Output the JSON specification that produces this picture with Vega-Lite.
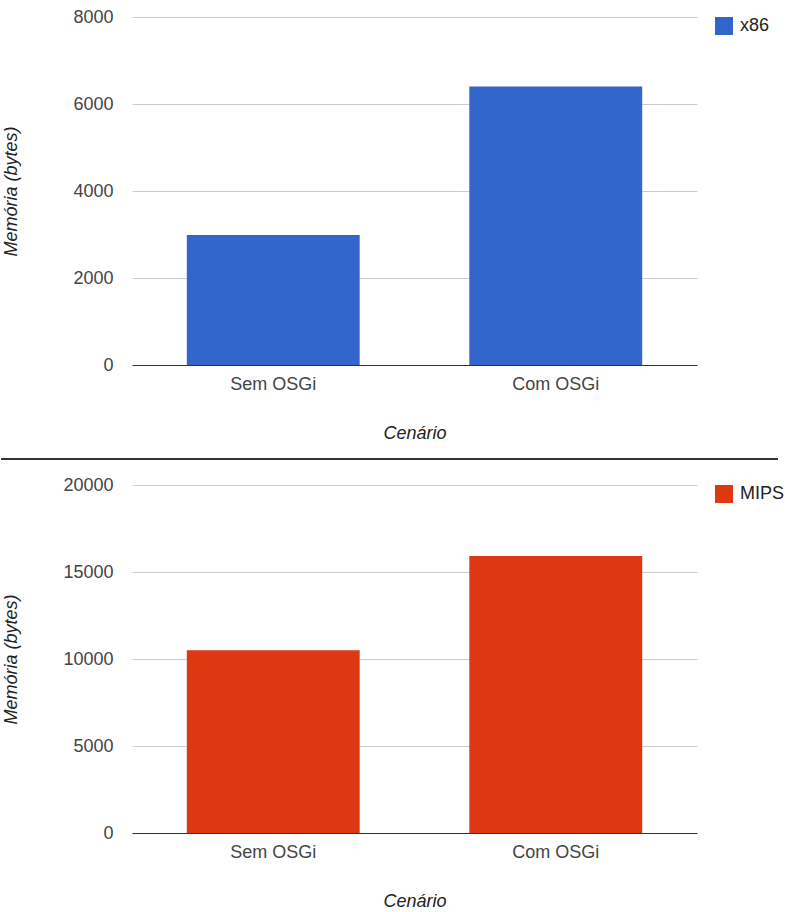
{
  "$schema": "https://vega.github.io/schema/vega-lite/v6.json",
  "background": "white",
  "padding": {"left": 0, "top": 8, "right": 0, "bottom": 3},
  "datasets": {
    "x86": [
      {"cenario": "Sem OSGi", "memoria": 2990, "arquitetura": "x86"},
      {"cenario": "Com OSGi", "memoria": 6400, "arquitetura": "x86"}
    ],
    "mips": [
      {"cenario": "Sem OSGi", "memoria": 10500, "arquitetura": "MIPS"},
      {"cenario": "Com OSGi", "memoria": 15920, "arquitetura": "MIPS"}
    ],
    "separador": [
      {"linha": 0}
    ],
    "vazio": []
  },
  "spacing": 16,
  "vconcat": [
    {
      "spacing": 0,
      "resolve": {
        "scale": {"color": "independent"},
        "legend": {"color": "independent"}
      },
      "hconcat": [
        {
          "width": 1,
          "height": 1,
          "data": {"name": "vazio"},
          "mark": {"type": "point", "opacity": 0}
        },
        {
          "width": 565,
          "height": 348,
          "data": {"name": "x86"},
          "mark": {"type": "bar"},
          "encoding": {
            "x": {
              "field": "cenario",
              "type": "nominal",
              "sort": ["Sem OSGi", "Com OSGi"],
              "scale": {"paddingInner": 0.388, "paddingOuter": 0.194},
              "axis": {"title": "Cenário"}
            },
            "y": {
              "field": "memoria",
              "type": "quantitative",
              "scale": {"domain": [0, 8000], "nice": false},
              "axis": {"title": "Memória (bytes)", "values": [0, 2000, 4000, 6000, 8000]}
            },
            "color": {
              "field": "arquitetura",
              "type": "nominal",
              "scale": {"domain": ["x86"], "range": ["#3366cc"]},
              "legend": {"title": null}
            }
          }
        }
      ]
    },
    {
      "width": 777,
      "height": 1,
      "data": {"name": "separador"},
      "mark": {"type": "rule", "color": "#333333", "strokeWidth": 2},
      "encoding": {
        "y": {
          "field": "linha",
          "type": "quantitative",
          "scale": {"domain": [0, 1]},
          "axis": null
        }
      }
    },
    {
      "spacing": 0,
      "resolve": {
        "scale": {"color": "independent"},
        "legend": {"color": "independent"}
      },
      "hconcat": [
        {
          "width": 1,
          "height": 1,
          "data": {"name": "vazio"},
          "mark": {"type": "point", "opacity": 0}
        },
        {
          "width": 565,
          "height": 348,
          "data": {"name": "mips"},
          "mark": {"type": "bar"},
          "encoding": {
            "x": {
              "field": "cenario",
              "type": "nominal",
              "sort": ["Sem OSGi", "Com OSGi"],
              "scale": {"paddingInner": 0.388, "paddingOuter": 0.194},
              "axis": {"title": "Cenário"}
            },
            "y": {
              "field": "memoria",
              "type": "quantitative",
              "scale": {"domain": [0, 20000], "nice": false},
              "axis": {"title": "Memória (bytes)", "values": [0, 5000, 10000, 15000, 20000]}
            },
            "color": {
              "field": "arquitetura",
              "type": "nominal",
              "scale": {"domain": ["MIPS"], "range": ["#dc3912"]},
              "legend": {"title": null}
            }
          }
        }
      ]
    }
  ],
  "resolve": {
    "scale": {"x": "independent", "y": "independent", "color": "independent"},
    "legend": {"color": "independent"}
  },
  "config": {
    "view": {"stroke": null},
    "font": "Liberation Sans, Arial, sans-serif",
    "axis": {
      "labelFont": "Liberation Sans, Arial, sans-serif",
      "labelFontSize": 18,
      "labelColor": "#444444",
      "titleFont": "Liberation Sans, Arial, sans-serif",
      "titleFontSize": 18,
      "titleFontStyle": "italic",
      "titleFontWeight": "normal",
      "titleColor": "#222222",
      "ticks": false,
      "tickSize": 0
    },
    "axisX": {
      "domain": true,
      "domainColor": "#333333",
      "domainWidth": 1,
      "grid": false,
      "labelAngle": 0,
      "labelPadding": 10,
      "titlePadding": 31,
      "zindex": 1
    },
    "axisY": {
      "domain": false,
      "grid": true,
      "gridColor": "#cccccc",
      "gridWidth": 1,
      "format": "d",
      "labelPadding": 19,
      "minExtent": 70,
      "maxExtent": 70,
      "titlePadding": 42
    },
    "legend": {
      "orient": "right",
      "offset": 18,
      "padding": 0,
      "symbolType": "square",
      "symbolSize": 324,
      "symbolStrokeWidth": 0,
      "labelFont": "Liberation Sans, Arial, sans-serif",
      "labelFontSize": 18,
      "labelColor": "#222222",
      "labelOffset": 7
    }
  }
}
